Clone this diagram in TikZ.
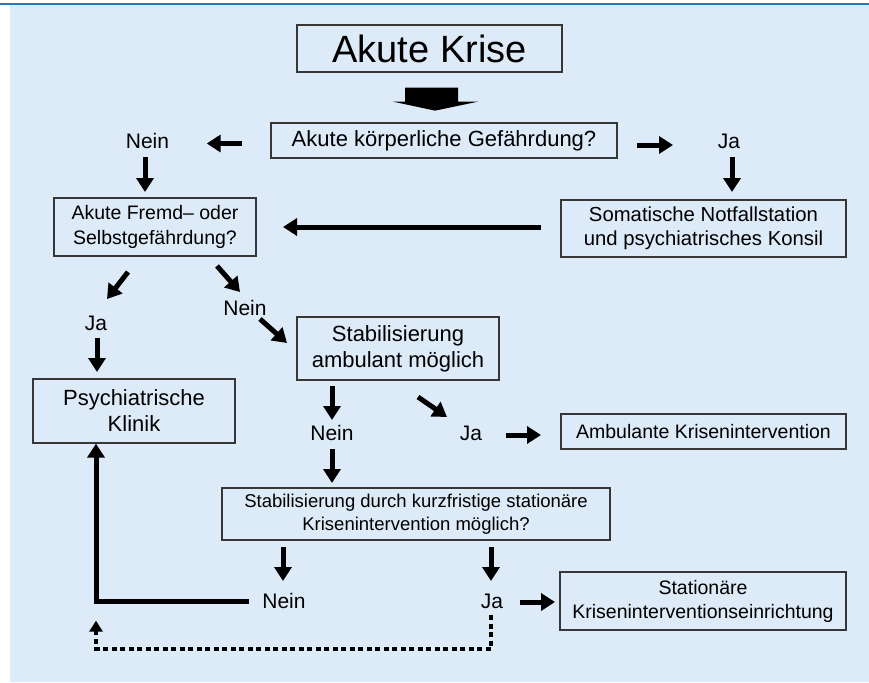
\documentclass[tikz,border=0pt]{standalone}
\usepackage{fontspec}
\setmainfont{Liberation Sans}
\usetikzlibrary{arrows.meta,calc}
\definecolor{bgblue}{RGB}{221,234,248}
\definecolor{topblue}{RGB}{46,117,182}
\definecolor{boxline}{RGB}{55,55,55}
\begin{document}
\begin{tikzpicture}[x=1pt,y=-1pt,
  box/.style={draw=boxline,line width=1.3pt,inner sep=2pt,align=center,font=\fontsize{21}{25}\selectfont},
  lbl/.style={inner sep=0pt,font=\fontsize{21}{25}\selectfont},
  arr/.style={line width=5pt,-{Triangle[width=17pt,length=14pt]}},
  dotarr/.style={line width=4pt,dash pattern=on 5pt off 3.5pt,-{Triangle[width=13pt,length=11pt]}}]
\useasboundingbox (0,0) rectangle (869,682);
\fill[bgblue] (10,5) rectangle (869,682);
\draw[topblue,line width=2pt] (0,4) -- (869,4);

% boxes
\node[box,minimum width=265,minimum height=47,font=\fontsize{38}{42}\selectfont] (krise) at (429.5,48.5) {Akute Krise};
\node[box,minimum width=346,minimum height=35,font=\fontsize{22}{26}\selectfont] (koerper) at (444,140.5) {Akute körperliche Gefährdung?};
\node[box,minimum width=202,minimum height=58,font=\fontsize{19.5}{25}\selectfont] (fremd) at (155,227) {Akute Fremd– oder\\Selbstgefährdung?};
\node[box,minimum width=285,minimum height=57,font=\fontsize{20.3}{24}\selectfont] (somat) at (703.5,228.5) {Somatische Notfallstation\\und psychiatrisches Konsil};
\node[box,minimum width=202,minimum height=64,font=\fontsize{22}{26}\selectfont] (klinik) at (134,411) {Psychiatrische\\Klinik};
\node[box,minimum width=202,minimum height=63,font=\fontsize{22}{26}\selectfont] (stab) at (398,348.5) {Stabilisierung\\ambulant möglich};
\node[box,minimum width=285,minimum height=35,font=\fontsize{19.5}{24}\selectfont] (amb) at (703.5,431.5) {Ambulante Krisenintervention};
\node[box,minimum width=388,minimum height=52,font=\fontsize{18.5}{23}\selectfont] (kurz) at (416,514) {Stabilisierung durch kurzfristige stationäre\\Krisenintervention möglich?};
\node[box,minimum width=286,minimum height=58,font=\fontsize{19.5}{24}\selectfont] (stat) at (703,601) {Stationäre\\Kriseninterventionseinrichtung};

% labels
\node[lbl] (nein1) at (147.5,141) {Nein};
\node[lbl] (ja1) at (729,141) {Ja};
\node[lbl] (ja2) at (96,323) {Ja};
\node[lbl] (nein2) at (245,308) {Nein};
\node[lbl] (nein3) at (332,433) {Nein};
\node[lbl] (ja3) at (471,433) {Ja};
\node[lbl] (nein4) at (284,601) {Nein};
\node[lbl] (ja4) at (492,601) {Ja};

% block arrow from Akute Krise
\fill ($(krise.south)+(-24.5,15)$) -- ($(krise.south)+(28.5,15)$) -- ($(krise.south)+(28.5,29)$)
  -- ($(krise.south)+(48.5,29)$) -- ($(krise.south)+(5.5,38)$) -- ($(krise.south)+(-36.5,29)$)
  -- ($(krise.south)+(-24.5,29)$) -- cycle;

% arrows
\draw[arr] ($(koerper)+(-202.3,3)$) -- ($(nein1)+(59.2,2.5)$);
\draw[arr] ($(koerper)+(193,4.5)$) -- ($(ja1)+(-56,4)$);
\draw[arr] ($(nein1)+(-2.5,16)$) -- ($(fremd)+(-10,-35)$);
\draw[arr] ($(ja1)+(3,16)$) -- ($(somat)+(28.5,-36.5)$);
\draw[arr] ($(somat)+(-162.5,-1.5)$) -- ($(fremd)+(128,0)$);
\draw[arr] ($(fremd)+(-27,45)$) -- ($(ja2)+(11,-24)$);
\draw[arr] ($(fremd)+(62,39)$) -- ($(nein2)+(-5,-16)$);
\draw[arr] ($(ja2)+(1,15)$) -- ($(klinik)+(-37,-39)$);
\draw[arr] ($(nein2)+(15,11)$) -- ($(stab)+(-111,-5.5)$);
\draw[arr] ($(stab)+(-66,37.5)$) -- ($(nein3)+(0,-13)$);
\draw[arr] ($(stab)+(20,48.5)$) -- ($(ja3)+(-24,-16)$);
\draw[arr] ($(ja3)+(35,2)$) -- ($(amb)+(-162.5,3.5)$);
\draw[arr] ($(nein3)+(0,16)$) -- ($(kurz)+(-84,-31)$);
\draw[arr] ($(kurz)+(-133,33)$) -- ($(nein4)+(-1,-20)$);
\draw[arr] ($(kurz)+(75,33)$) -- ($(ja4)+(-1,-20)$);
\draw[arr] ($(ja4)+(28,1)$) -- ($(stat)+(-148,1)$);
\draw[arr] ($(nein4)+(-35,0)$) -| ($(klinik.south)+(-38,0)$);

\coordinate (loopc) at ($(klinik.south)+(-38,205)$);
\draw[dotarr] ($(ja4)+(-1,14)$) |- (loopc) -- ($(klinik.south)+(-38,177)$);
\end{tikzpicture}
\end{document}
